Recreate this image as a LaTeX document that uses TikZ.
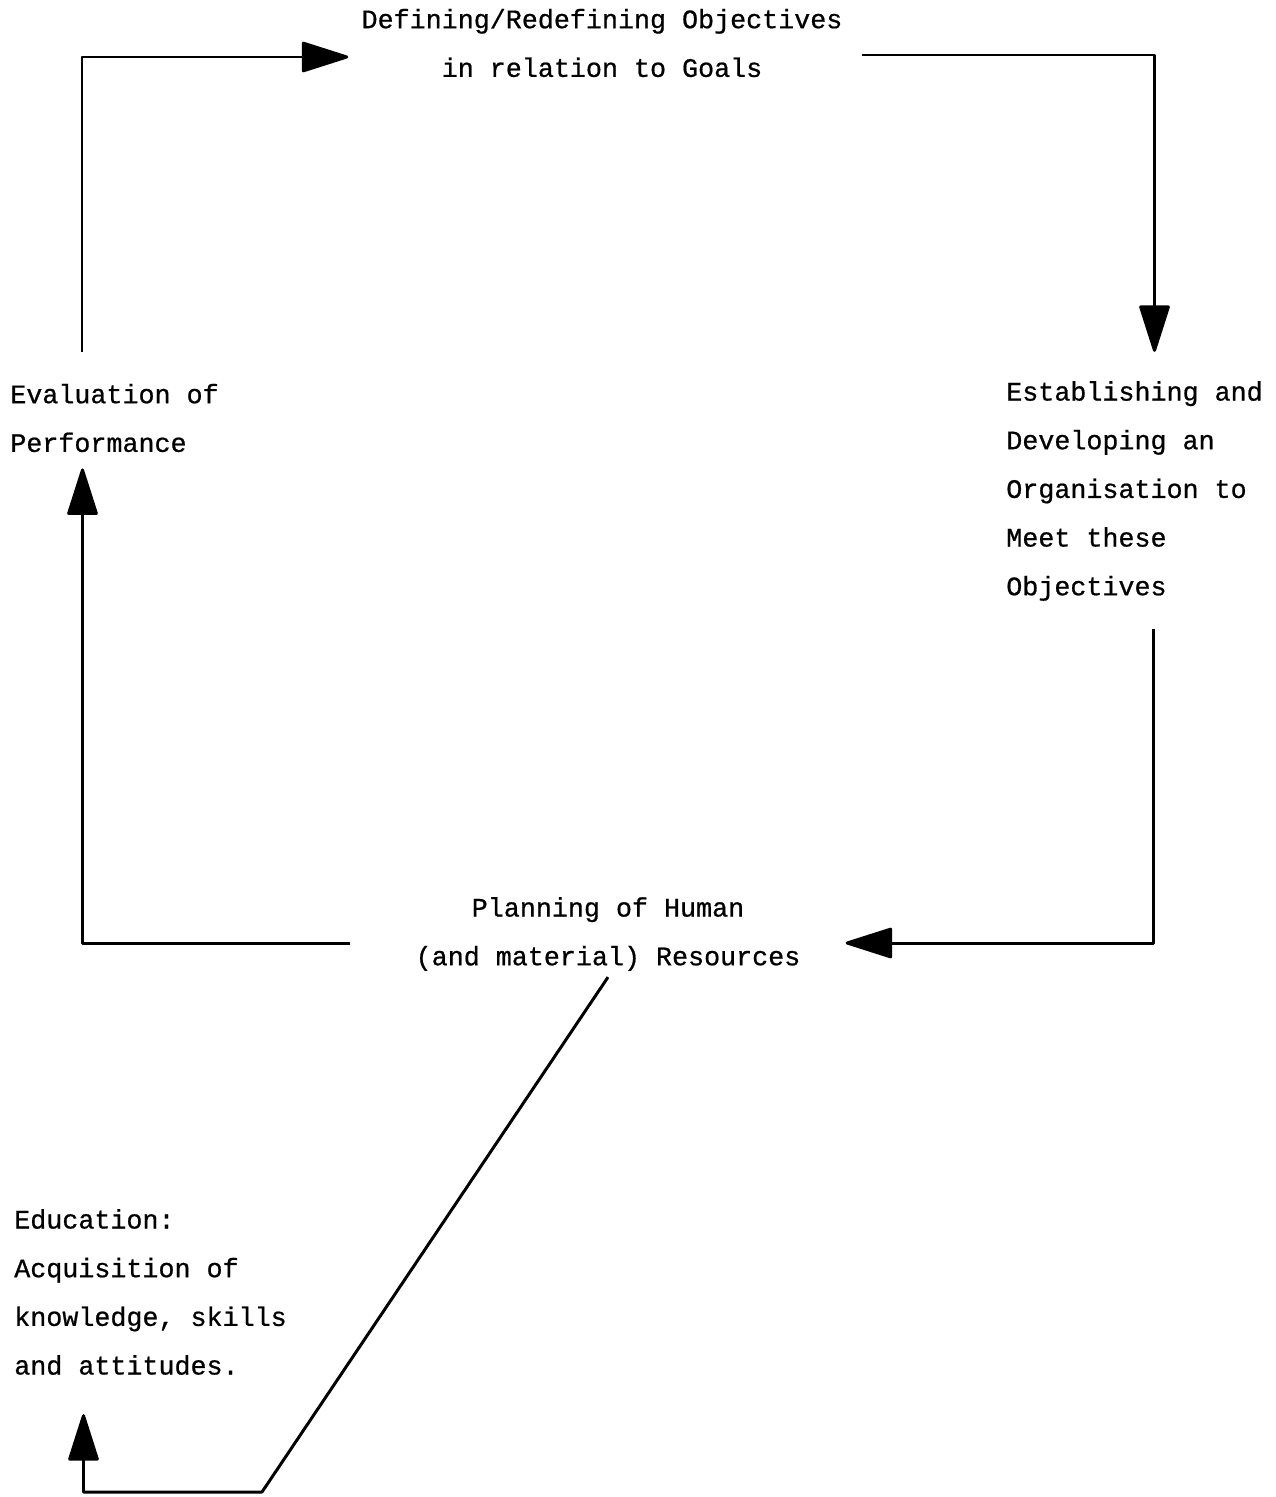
\documentclass[tikz,border=0pt]{standalone}
\usepackage{fontspec}
\setmainfont{Liberation Mono}
\newfontfamily\twfont[FakeBold=0.7]{Liberation Mono}
\usetikzlibrary{arrows.meta}
\begin{document}
\begin{tikzpicture}[x=0.02cm,y=-0.02cm,
  lbl/.style={inner sep=0pt,font=\twfont\fontsize{15.2}{27.7}\selectfont},
  conn/.style={line width=1.7pt,line join=round},
  arr/.style={conn,-{Triangle[length=1.0cm,width=0.62cm,round]}}]
\useasboundingbox (0,0) rectangle (1275,1497);
\node[lbl,align=center] (top) at (602,43) {Defining/Redefining Objectives\\in relation to Goals};
\node[lbl,align=left] (est) at (1134.5,491) {Establishing and\\Developing an\\Organisation to\\Meet these\\Objectives};
\node[lbl,align=left] (eval) at (114.5,418) {Evaluation of\\Performance};
\node[lbl,align=center] (plan) at (608,934) {Planning of Human\\(and material) Resources};
\node[lbl,align=left] (edu) at (150.5,1292) {Education:\\Acquisition of\\knowledge, skills\\and attitudes.};
\coordinate (c1) at (82,352);
\coordinate (k1) at (262,1492);
\draw[arr] (c1) |- ([shift={(-13,14)}]top.west);
\draw[arr] ([shift={(19,12)}]top.east) -| ([shift={(20,-29)}]est.north);
\draw[arr] ([shift={(19,28)}]est.south) |- ([shift={(45,9)}]plan.east);
\draw[arr] ([shift={(-65,9)}]plan.west) -| ([shift={(-32,16)}]eval.south);
\draw[arr] ([shift={(0,6)}]plan.south) -- (k1) -| ([shift={(-67,39)}]edu.south);
\end{tikzpicture}
\end{document}
